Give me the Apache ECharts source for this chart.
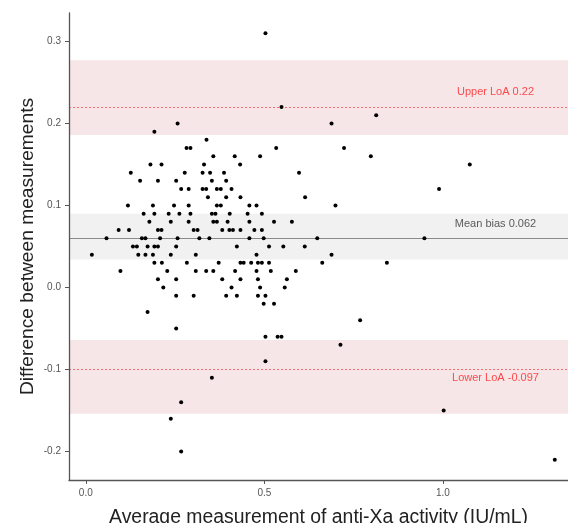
<!DOCTYPE html>
<html><head><meta charset="utf-8">
<script src="https://cdn.jsdelivr.net/npm/echarts@6/dist/echarts.min.js"></script>
<style>html,body{margin:0;padding:0;background:#fff}#c{width:568px;height:523px}</style>
</head><body><div id="c"></div>
<script>
// Average of the two measurements (x) and their difference (y)
const avgActivity = [
0.503,
0.548,
0.813,
0.257,0.688,
0.192,
0.338,
0.282,0.293,0.533,0.723,
0.357,0.417,0.488,0.798,
0.181,0.212,0.331,0.432,1.075,
0.126,0.277,0.327,0.348,0.387,0.597,
0.152,0.202,0.253,0.353,0.393,
0.267,0.288,0.327,0.337,0.367,0.378,0.408,0.989,
0.342,0.393,0.433,0.614,
0.118,0.188,0.247,0.288,0.367,0.378,0.458,0.478,0.699,
0.162,0.192,0.232,0.262,0.293,0.353,0.363,0.403,0.453,0.493,
0.178,0.238,0.288,0.357,0.367,0.397,0.458,0.527,0.577,
0.092,0.121,0.202,0.212,0.302,0.313,0.382,0.402,0.412,0.433,0.472,0.493,
0.058,0.157,0.167,0.208,0.257,0.318,0.346,0.458,0.498,0.648,0.948,
0.132,0.143,0.173,0.192,0.202,0.253,0.423,0.513,0.553,0.613,
0.017,0.147,0.167,0.188,0.238,0.308,0.478,0.688,
0.192,0.213,0.283,0.372,0.433,0.442,0.463,0.482,0.493,0.513,0.662,0.843,
0.097,0.228,0.308,0.337,0.357,0.418,0.478,0.518,0.588,
0.202,0.253,0.382,0.433,0.482,0.563,
0.217,0.408,0.488,0.557,
0.253,0.302,0.393,0.423,0.482,0.503,
0.498,0.527,
0.173,
0.768,
0.253,
0.503,0.537,0.548,
0.713,
0.503,
0.353,
0.267,
1.002,
0.238,
0.267,
1.313
];
const differences = [
0.31,
0.22,
0.21,
0.20,0.20,
0.19,
0.18,
0.17,0.17,0.17,0.17,
0.16,0.16,0.16,0.16,
0.15,0.15,0.15,0.15,0.15,
0.14,0.14,0.14,0.14,0.14,0.14,
0.13,0.13,0.13,0.13,0.13,
0.12,0.12,0.12,0.12,0.12,0.12,0.12,0.12,
0.11,0.11,0.11,0.11,
0.10,0.10,0.10,0.10,0.10,0.10,0.10,0.10,0.10,
0.09,0.09,0.09,0.09,0.09,0.09,0.09,0.09,0.09,0.09,
0.08,0.08,0.08,0.08,0.08,0.08,0.08,0.08,0.08,
0.07,0.07,0.07,0.07,0.07,0.07,0.07,0.07,0.07,0.07,0.07,0.07,
0.06,0.06,0.06,0.06,0.06,0.06,0.06,0.06,0.06,0.06,0.06,
0.05,0.05,0.05,0.05,0.05,0.05,0.05,0.05,0.05,0.05,
0.04,0.04,0.04,0.04,0.04,0.04,0.04,0.04,
0.03,0.03,0.03,0.03,0.03,0.03,0.03,0.03,0.03,0.03,0.03,0.03,
0.02,0.02,0.02,0.02,0.02,0.02,0.02,0.02,0.02,
0.01,0.01,0.01,0.01,0.01,0.01,
0.00,0.00,0.00,0.00,
-0.01,-0.01,-0.01,-0.01,-0.01,-0.01,
-0.02,-0.02,
-0.03,
-0.04,
-0.05,
-0.06,-0.06,-0.06,
-0.07,
-0.09,
-0.11,
-0.14,
-0.15,
-0.16,
-0.20,
-0.21
];
const meanBias = 0.062;
const upperLoA = 0.22;
const lowerLoA = -0.097;
const meanBiasCI = [0.034, 0.090];
const upperLoACI = [0.186, 0.277];
const lowerLoACI = [-0.154, -0.064];
const xTicks = [0, 0.5, 1.0];
const yTicks = [-0.2, -0.1, 0, 0.1, 0.2, 0.3];
const xTitle = 'Average measurement of anti-Xa activity (IU/mL)';
const yTitle = 'Difference between measurements';

const FONT = '"Liberation Sans", Arial, sans-serif';
const points = avgActivity.map((x, i) => [x, differences[i]]);
const labelX = 1.147;
const annotations = [
  {value: [labelX, upperLoA + 0.018], text: 'Upper LoA ' + upperLoA, color: '#ff2222'},
  {value: [labelX, meanBias + 0.0155], text: 'Mean bias ' + meanBias, color: '#333333'},
  {value: [labelX, lowerLoA - 0.0138], text: 'Lower LoA ' + lowerLoA, color: '#ff2222'}
];

const chart = echarts.init(document.getElementById('c'), null, {renderer: 'canvas'});
chart.setOption({
  animation: false,
  grid: {left: 69, right: 0, top: 13, bottom: 43, containLabel: false, outerBoundsMode: 'none'},
  xAxis: {
    type: 'value', min: -0.047, max: 1.35, z: 10,
    splitLine: {show: false},
    axisLine: {onZero: false, lineStyle: {color: '#555', width: 1.3}},
    axisTick: {show: true, length: 4, lineStyle: {color: '#555'}, customValues: xTicks},
    axisLabel: {customValues: xTicks, formatter: v => v.toFixed(1), color: '#555', fontSize: 10, margin: 8, fontFamily: FONT},
    name: xTitle, nameLocation: 'middle', nameGap: 28,
    nameTextStyle: {fontSize: 19.4, color: '#222', fontFamily: FONT}
  },
  yAxis: {
    type: 'value', min: -0.2348, max: 0.3347, z: 10,
    splitLine: {show: false},
    axisLine: {show: true, onZero: false, lineStyle: {color: '#555', width: 1.3}},
    axisTick: {show: true, length: 4, lineStyle: {color: '#555'}, customValues: yTicks},
    axisLabel: {customValues: yTicks, formatter: v => v.toFixed(1), color: '#555', fontSize: 10, margin: 8, fontFamily: FONT},
    name: yTitle, nameLocation: 'middle', nameGap: 32, nameRotate: 90, nameMoveOverlap: false,
    nameTextStyle: {fontSize: 19.2, color: '#222', fontFamily: FONT}
  },
  series: [
    {
      type: 'scatter', data: points, symbolSize: 4,
      itemStyle: {color: '#000', opacity: 1}, z: 5,
      markArea: {
        silent: true,
        data: [
          [{yAxis: upperLoACI[0], itemStyle: {color: '#f6e6e8'}}, {yAxis: upperLoACI[1]}],
          [{yAxis: meanBiasCI[0], itemStyle: {color: '#f1f1f1'}}, {yAxis: meanBiasCI[1]}],
          [{yAxis: lowerLoACI[0], itemStyle: {color: '#f6e6e8'}}, {yAxis: lowerLoACI[1]}]
        ]
      },
      markLine: {
        silent: true, symbol: 'none', label: {show: false},
        data: [
          {yAxis: upperLoA, lineStyle: {color: '#f46d6d', type: [2, 2], width: 1}},
          {yAxis: meanBias, lineStyle: {color: '#8a8a8a', type: 'solid', width: 1.2}},
          {yAxis: lowerLoA, lineStyle: {color: '#f46d6d', type: [2, 2], width: 1}}
        ]
      }
    },
    {
      type: 'scatter', symbolSize: 0, silent: true, z: 6,
      data: annotations.map(a => ({
        value: a.value,
        label: {show: true, position: 'inside', fontSize: 11, fontFamily: FONT, color: a.color, formatter: a.text}
      })),
      labelLayout: {hideOverlap: false}
    }
  ]
});
</script></body></html>
